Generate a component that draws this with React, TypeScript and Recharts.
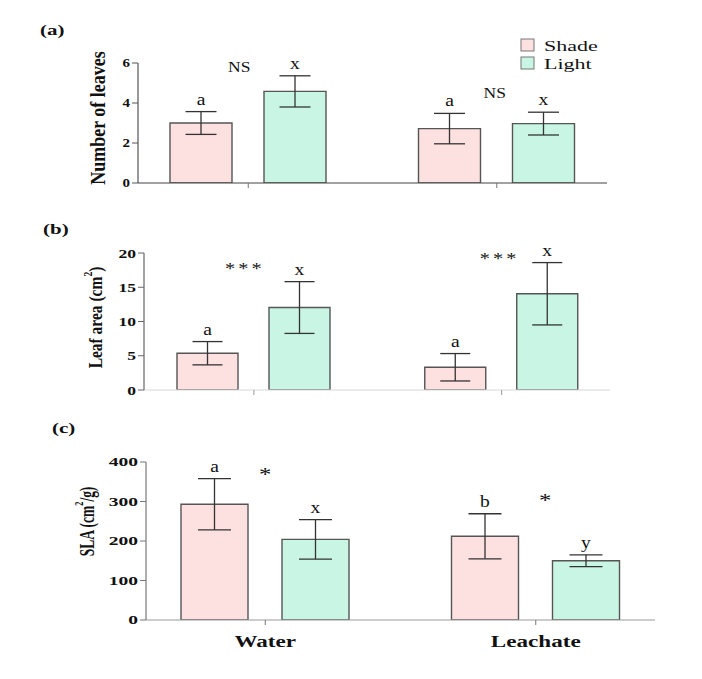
import React from 'react';
import { BarChart, Bar, XAxis, YAxis, ErrorBar, LabelList, ReferenceDot, Legend } from 'recharts';

const SERIF = '"Liberation Serif", "Times New Roman", serif';
const SHADE_FILL = '#fde0e0';
const LIGHT_FILL = '#c9f6e4';
const BAR_STROKE = '#555';

// ---------- data ----------
const groups = ['Water', 'Leachate'];
const seriesNames = ['Shade', 'Light'];

// (a) Number of leaves
const leavesShade = [3.0, 2.72];
const leavesShadeErr = [0.57, 0.76];
const leavesLight = [4.58, 2.97];
const leavesLightErr = [0.78, 0.57];
const leavesShadeLetters = ['a', 'a'];
const leavesLightLetters = ['x', 'x'];
const leavesSig = ['NS', 'NS'];
const leavesSigAt = [5.78, 4.48];
const leavesTicks = [0, 2, 4, 6];

// (b) Leaf area (cm2)
const areaShade = [5.37, 3.32];
const areaShadeErr = [1.7, 2.0];
const areaLight = [12.04, 14.05];
const areaLightErr = [3.78, 4.55];
const areaShadeLetters = ['a', 'a'];
const areaLightLetters = ['x', 'x'];
const areaSig = ['***', '***'];
const areaSigAt = [18.15, 19.65];
const areaTicks = [0, 5, 10, 15, 20];

// (c) SLA (cm2/g)
const slaShade = [293, 212];
const slaShadeErr = [65, 57];
const slaLight = [204, 150];
const slaLightErr = [50, 15];
const slaShadeLetters = ['a', 'b'];
const slaLightLetters = ['x', 'y'];
const slaSig = ['*', '*'];
const slaSigAt = [376, 311];
const slaTicks = [0, 100, 200, 300, 400];

// ---------- helpers ----------
const YTick = (props: any) => {
  const { x, y, payload, fs, sx } = props;
  return (
    <text
      transform={`translate(${x},${y}) scale(${sx},1)`}
      textAnchor="end"
      dominantBaseline="central"
      fontFamily={SERIF}
      fontWeight="bold"
      fontSize={fs}
      fill="#111"
    >
      {payload.value}
    </text>
  );
};

const XTick = (props: any) => {
  const { x, y, payload, fs, sx, show } = props;
  if (!show) return <g />;
  return (
    <text
      transform={`translate(${x},${y + 20}) scale(${sx},1)`}
      textAnchor="middle"
      fontFamily={SERIF}
      fontWeight="bold"
      fontSize={fs}
      fill="#111"
    >
      {payload.value}
    </text>
  );
};

const AxisTitle = (props: any) => {
  const { viewBox, main, sup, tail, fs, sx, dy } = props;
  if (!viewBox) return null;
  const cx = viewBox.x + viewBox.width / 2;
  const cy = viewBox.y + viewBox.height / 2 + dy;
  return (
    <text
      transform={`translate(${cx},${cy}) scale(${sx},1) rotate(-90)`}
      textAnchor="middle"
      dominantBaseline="central"
      fontFamily={SERIF}
      fontWeight="bold"
      fontSize={fs}
      fill="#111"
    >
      <tspan>{main}</tspan>
      {sup ? (
        <tspan dy={-0.42 * fs} fontSize={fs * 0.62}>
          {sup}
        </tspan>
      ) : null}
      {sup ? <tspan dy={0.42 * fs}>{tail}</tspan> : null}
    </text>
  );
};

const makeLetter = (values: number[], errs: number[], fs: number, sx: number) => (props: any) => {
  const vb = props.viewBox || props;
  const i = props.index;
  if (!vb || vb.x == null || i == null) return null;
  const h = Math.abs(vb.height);
  const topY = Math.min(vb.y, vb.y + vb.height);
  const ppu = h / values[i];
  const errTop = topY - errs[i] * ppu;
  const cx = vb.x + vb.width / 2;
  return (
    <text
      transform={`translate(${cx},${errTop - 7}) scale(${sx},1)`}
      textAnchor="middle"
      fontFamily={SERIF}
      fontSize={fs}
      fill="#111"
    >
      {props.value}
    </text>
  );
};

const makeSig = (text: string, dx: number, fs: number, sx: number, spacing: number) => (p: any) => {
  const isStar = text.indexOf('*') >= 0;
  const dy = isStar ? fs * 0.5 : fs * 0.33;
  return (
    <text
      transform={`translate(${p.cx + dx},${p.cy + dy}) scale(${sx},1)`}
      textAnchor="middle"
      fontFamily={SERIF}
      fontSize={fs}
      letterSpacing={spacing}
      fill="#111"
    >
      {text}
    </text>
  );
};

const LEGEND_FILLS = [SHADE_FILL, LIGHT_FILL];

const LegendContent = () => (
  <svg width={130} height={42} style={{ display: 'block' }}>
    {seriesNames.map((name, i) => (
      <g key={name}>
        <rect x={6} y={5 + i * 18} width={13} height={12} fill={LEGEND_FILLS[i]} stroke="#777" strokeWidth={1} />
        <text
          transform={`translate(29,${17 + i * 18}) scale(1.42,1)`}
          fontFamily={SERIF}
          fontSize={15.5}
          fill="#111"
        >
          {name}
        </text>
      </g>
    ))}
  </svg>
);

type PanelProps = {
  d: {
    shade: number[];
    shadeErr: number[];
    light: number[];
    lightErr: number[];
    shadeLetters: string[];
    lightLetters: string[];
    sig: string[];
    sigAt: number[];
    ticks: number[];
  };
  s: any;
};

function Panel({ d, s }: PanelProps) {
  const rows = groups.map((g, i) => ({
    group: g,
    shade: d.shade[i],
    light: d.light[i],
    shadeErr: d.shadeErr[i],
    lightErr: d.lightErr[i],
    shadeLetter: d.shadeLetters[i],
    lightLetter: d.lightLetters[i],
  }));
  const max = d.ticks[d.ticks.length - 1];
  return (
    <div style={{ position: 'absolute', left: 0, top: s.top }}>
      <BarChart
        width={702}
        height={s.height}
        data={rows}
        margin={s.margin}
        barSize={s.barSize}
        barGap={s.barGap}
      >
        <XAxis
          dataKey="group"
          height={s.xHeight}
          padding={s.padding}
          interval={0}
          tickSize={5}
          tickMargin={2}
          axisLine={{ stroke: s.xAxisColor, strokeWidth: 1.2 }}
          tickLine={{ stroke: s.xTickColor }}
          tick={<XTick show={s.showX} fs={17.5} sx={1.32} />}
        />
        <YAxis
          type="number"
          domain={[0, max]}
          ticks={d.ticks}
          interval={0}
          allowDataOverflow
          width={s.yWidth}
          tickSize={6}
          tickMargin={2}
          axisLine={{ stroke: s.yAxisColor, strokeWidth: 1.2 }}
          tickLine={{ stroke: s.yAxisColor }}
          tick={<YTick fs={s.tickFs} sx={s.tickSx} />}
          label={<AxisTitle main={s.title} sup={s.sup} tail={s.tail} fs={s.titleFs} sx={s.titleSx} dy={s.titleDy} />}
        />
        {s.legend ? (
          <Legend
            layout="vertical"
            align="center"
            verticalAlign="middle"
            content={<LegendContent />}
            wrapperStyle={{ left: 515, top: 34, width: 130, height: 42 }}
          />
        ) : null}
        <Bar dataKey="shade" name={seriesNames[0]} fill={SHADE_FILL} stroke={BAR_STROKE} strokeWidth={1.4} isAnimationActive={false}>
          <ErrorBar dataKey="shadeErr" width={s.errHalf} stroke="#333" strokeWidth={1.3} direction="y" isAnimationActive={false} />
          <LabelList dataKey="shadeLetter" content={makeLetter(d.shade, d.shadeErr, 17, 1.15)} />
        </Bar>
        <Bar dataKey="light" name={seriesNames[1]} fill={LIGHT_FILL} stroke={BAR_STROKE} strokeWidth={1.4} isAnimationActive={false}>
          <ErrorBar dataKey="lightErr" width={s.errHalf} stroke="#333" strokeWidth={1.3} direction="y" isAnimationActive={false} />
          <LabelList dataKey="lightLetter" content={makeLetter(d.light, d.lightErr, 17, 1.15)} />
        </Bar>
        {groups.map((g, i) => (
          <ReferenceDot
            key={g}
            x={g}
            y={d.sigAt[i]}
            r={0}
            ifOverflow="visible"
            shape={makeSig(d.sig[i], s.sigDx[i], s.sigFs, s.sigSx, s.sigSpacing)}
          />
        ))}
      </BarChart>
    </div>
  );
}

const panelA = {
  top: 0,
  height: 200,
  margin: { top: 63, right: 95, bottom: 7, left: 57 },
  xHeight: 10,
  yWidth: 81,
  padding: { left: -14, right: -14 },
  barSize: 62,
  barGap: 32,
  errHalf: 15.5,
  tickFs: 12.5,
  tickSx: 1.2,
  title: 'Number of leaves',
  titleFs: 18,
  titleSx: 1.15,
  titleDy: -5,
  yAxisColor: '#555',
  xAxisColor: '#444',
  xTickColor: '#777',
  showX: false,
  sigDx: [-9, -2],
  sigFs: 14,
  sigSx: 1.25,
  sigSpacing: 0,
  legend: true,
};

const panelB = {
  top: 200,
  height: 210,
  margin: { top: 53, right: 92, bottom: 10, left: 47 },
  xHeight: 10,
  yWidth: 97,
  padding: { left: -14, right: -15.5 },
  barSize: 61,
  barGap: 31,
  errHalf: 15,
  tickFs: 13,
  tickSx: 1.35,
  title: 'Leaf area (cm',
  sup: '2',
  tail: ')',
  titleFs: 15.5,
  titleSx: 1.2,
  titleDy: -4,
  yAxisColor: '#666',
  xAxisColor: '#d8d8d8',
  xTickColor: '#999',
  showX: false,
  sigDx: [-9, -2],
  sigFs: 17,
  sigSx: 1.2,
  sigSpacing: 2.5,
  legend: false,
};

const panelC = {
  top: 410,
  height: 250,
  margin: { top: 52, right: 47, bottom: 5, left: 27 },
  xHeight: 35,
  yWidth: 119,
  padding: { left: -16, right: -16 },
  barSize: 67,
  barGap: 34,
  errHalf: 16.5,
  tickFs: 13,
  tickSx: 1.5,
  title: 'SLA (cm',
  sup: '2',
  tail: '/g)',
  titleFs: 13.5,
  titleSx: 1.5,
  titleDy: -19.5,
  yAxisColor: '#777',
  xAxisColor: '#999',
  xTickColor: '#777',
  showX: true,
  sigDx: [0, 9.5],
  sigFs: 19,
  sigSx: 1.3,
  sigSpacing: 0,
  legend: false,
};

const panelTags = ['(a)', '(b)', '(c)'];

export default function App() {
  return (
    <div style={{ position: 'absolute', left: 0, top: 0, width: 702, height: 679, background: '#fff', overflow: 'hidden' }}>
      <Panel
        s={panelA}
        d={{
          shade: leavesShade,
          shadeErr: leavesShadeErr,
          light: leavesLight,
          lightErr: leavesLightErr,
          shadeLetters: leavesShadeLetters,
          lightLetters: leavesLightLetters,
          sig: leavesSig,
          sigAt: leavesSigAt,
          ticks: leavesTicks,
        }}
      />
      <Panel
        s={panelB}
        d={{
          shade: areaShade,
          shadeErr: areaShadeErr,
          light: areaLight,
          lightErr: areaLightErr,
          shadeLetters: areaShadeLetters,
          lightLetters: areaLightLetters,
          sig: areaSig,
          sigAt: areaSigAt,
          ticks: areaTicks,
        }}
      />
      <Panel
        s={panelC}
        d={{
          shade: slaShade,
          shadeErr: slaShadeErr,
          light: slaLight,
          lightErr: slaLightErr,
          shadeLetters: slaShadeLetters,
          lightLetters: slaLightLetters,
          sig: slaSig,
          sigAt: slaSigAt,
          ticks: slaTicks,
        }}
      />
      <svg width={702} height={679} style={{ position: 'absolute', left: 0, top: 0, pointerEvents: 'none' }}>
        {panelTags.map((t, i) => {
          const pos = [
            [40, 35],
            [43, 234],
            [52, 433],
          ][i];
          return (
            <text
              key={t}
              transform={`translate(${pos[0]},${pos[1]}) scale(1.4,1)`}
              fontFamily={SERIF}
              fontWeight="bold"
              fontSize={15}
              fill="#111"
            >
              {t}
            </text>
          );
        })}
      </svg>
    </div>
  );
}
